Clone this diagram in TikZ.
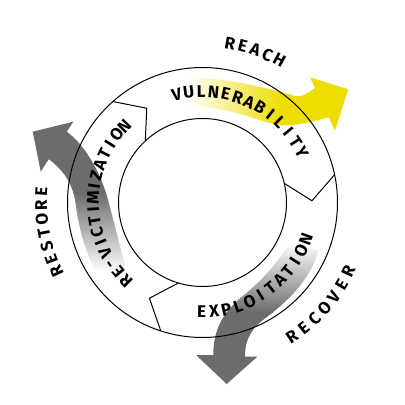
\documentclass[tikz,border=0pt]{standalone}
\usepackage{fontspec}
\setmainfont{Fira Sans}
\usetikzlibrary{calc}

\definecolor{reachyellow}{RGB}{238,221,0}
\definecolor{arrowgray}{RGB}{108,108,108}

\begin{document}
\begin{tikzpicture}[x=1pt, y=1pt,
  ring/.style={black, line width=1pt},
  lbl/.style={inner sep=0pt, font=\fontsize{17}{20}\selectfont\bfseries}]
\useasboundingbox (-202.5,-202.5) rectangle (202.5,202.5);

% yellow arrow (reach)
\begin{scope}
\clip (-14.5,124.5) .. controls (15,126) and (60,116) .. (92.5,106.5)
  .. controls (100,104.5) and (107,111) .. (112.5,114.5) -- (107.5,125.2) -- (145.8,113.2)
  -- (132.5,71.8) -- (126.3,85.2) .. controls (110,81) and (92,76) .. (77.5,77.5)
  .. controls (62,79) and (40,90) .. (10.8,94.2) .. controls (0,95.5) and (-8,95.8) .. (-14.5,95.8) -- cycle;
\shade[left color=white, right color=reachyellow] (-15,60) rectangle (80,130);
\fill[reachyellow] (79.5,60) rectangle (150,130);
\end{scope}

% gray arrow (restore)
\begin{scope}
\clip (-75.8,-67.5) .. controls (-84,-40) and (-93,0) .. (-98,14)
  .. controls (-104,32) and (-118,58) .. (-135.7,70.8) -- (-129.2,80.8) -- (-169.8,70.8)
  -- (-161.8,30.8) -- (-153.7,43.3) .. controls (-140,33) and (-130,20) .. (-127,0)
  .. controls (-124,-25) and (-117,-50) .. (-107.5,-67.5) -- cycle;
\shade[top color=arrowgray, bottom color=white] (-175,-70) rectangle (-70,10);
\fill[arrowgray] (-175,9.5) rectangle (-70,85);
\end{scope}

% gray arrow (recover)
\begin{scope}
\clip (87.5,-39.2) .. controls (75,-62) and (55,-82) .. (37.5,-95.8)
  .. controls (22,-110) and (10.8,-125) .. (10.8,-152.5) -- (-6.5,-152.5) -- (24.2,-181.5)
  -- (54.8,-154.2) -- (42.5,-154.2) .. controls (42.5,-135) and (50,-125) .. (65,-114)
  .. controls (90,-95) and (108,-75) .. (116,-48) -- cycle;
\shade[top color=white, bottom color=arrowgray] (0,-40) rectangle (120,-110);
\fill[arrowgray] (-10,-109.5) rectangle (120,-185);
\end{scope}

% ring and chevrons
\draw[ring] (0,0) circle (135);
\draw[ring] (0,0) circle (84);
\foreach \a in {131.6,11.9,252}
  \draw[ring, line join=miter] (\a:135) -- (\a-11:109.5) -- (\a+1.3:84);

% inner labels
\foreach \ch [count=\i from 0] in {V,U,L,N,E,R,A,B,I,L,I,T,Y}
  \node[lbl, rotate=103.5-\i*6.4-90] (vul-\i) at ({103.5-\i*6.4}:111) {\ch};
\foreach \ch [count=\i from 0] in {E,X,P,L,O,I,T,A,T,I,O,N}
  \node[lbl, rotate=-90.4+\i*6.46+90] (expl-\i) at ({-90.4+\i*6.46}:109.5) {\ch};
\foreach \ch [count=\i from 0] in {R,E,-,V,I,C,T,I,M,I,Z,A,T,I,O,N}
  \node[lbl, rotate=225.6-\i*6-90] (revic-\i) at ({225.6-\i*6}:109.5) {\ch};

% outer labels
\foreach \ch [count=\i from 0] in {R,E,A,C,H}
  \node[lbl, rotate=80.2-\i*4.65-90] (reach-\i) at ({80.2-\i*4.65}:161.5) {\ch};
\foreach \ch [count=\i from 0] in {R,E,C,O,V,E,R}
  \node[lbl, rotate=-56.4+\i*5.17+90] (recov-\i) at ({-56.4+\i*5.17}:161.5) {\ch};
\foreach \ch [count=\i from 0] in {R,E,S,T,O,R,E}
  \node[lbl, rotate=205.4-\i*4.87-90] (restore-\i) at ({205.4-\i*4.87}:161.5) {\ch};

\end{tikzpicture}
\end{document}
